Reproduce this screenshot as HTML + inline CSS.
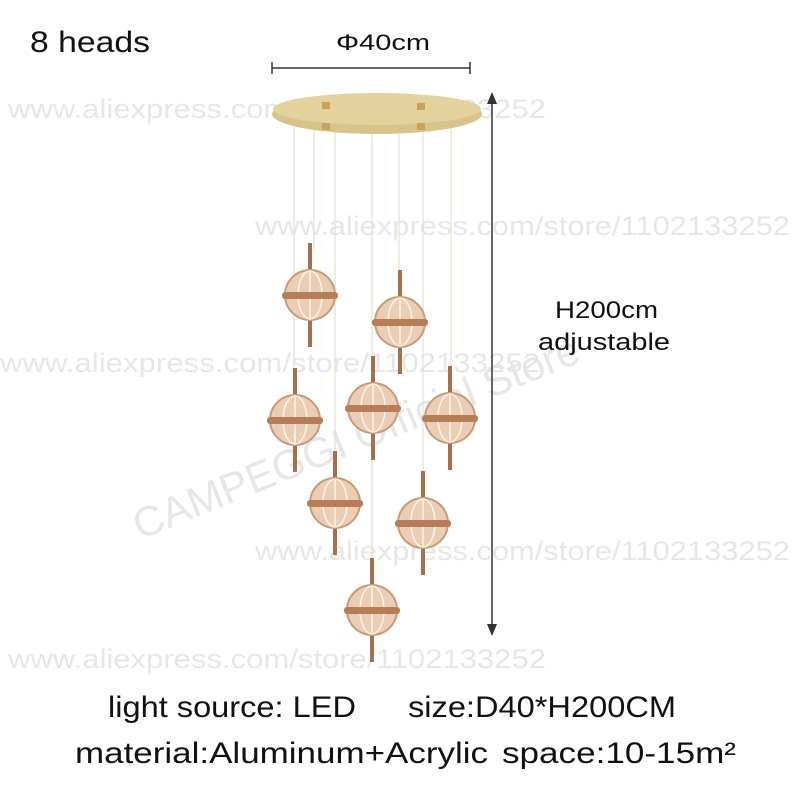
<!DOCTYPE html>
<html><head><style>body{margin:0;background:#fff}</style></head><body>
<svg width="800" height="800" xmlns="http://www.w3.org/2000/svg" font-family="Liberation Sans, sans-serif">
<rect width="800" height="800" fill="#fff"/>
<g fill="#e6e6e6" font-size="27" lengthAdjust="spacingAndGlyphs">
<text x="8" y="118" textLength="538" lengthAdjust="spacingAndGlyphs">www.aliexpress.com/store/1102133252</text>
<text x="255" y="235" textLength="535" lengthAdjust="spacingAndGlyphs">www.aliexpress.com/store/1102133252</text>
<text x="0" y="372" textLength="540" lengthAdjust="spacingAndGlyphs">www.aliexpress.com/store/1102133252</text>
<text x="255" y="560" textLength="535" lengthAdjust="spacingAndGlyphs">www.aliexpress.com/store/1102133252</text>
<text x="8" y="668" textLength="538" lengthAdjust="spacingAndGlyphs">www.aliexpress.com/store/1102133252</text>
<text x="140" y="540" font-size="42" transform="rotate(-22 140 540)">CAMPEGGI Official Store</text>
</g>
<text x="30" y="52" font-size="30" fill="#111" textLength="120" lengthAdjust="spacingAndGlyphs">8 heads</text>
<text x="336" y="50" font-size="22" fill="#111" textLength="94" lengthAdjust="spacingAndGlyphs">Φ40cm</text>
<line x1="272" y1="68" x2="470" y2="68" stroke="#333" stroke-width="1.5"/>
<line x1="272" y1="62" x2="272" y2="74" stroke="#333" stroke-width="1.5"/>
<line x1="470" y1="62" x2="470" y2="74" stroke="#333" stroke-width="1.5"/>
<line x1="492" y1="100" x2="492" y2="628" stroke="#333" stroke-width="1.5"/>
<polygon points="492,92 487,104 497,104" fill="#333"/>
<polygon points="492,636 487,624 497,624" fill="#333"/>
<text x="555" y="318" font-size="24" fill="#111" textLength="103" lengthAdjust="spacingAndGlyphs">H200cm</text>
<text x="538" y="350" font-size="24" fill="#111" textLength="132" lengthAdjust="spacingAndGlyphs">adjustable</text>
<g stroke="#e8e0cc" stroke-width="1.2">
<line x1="294" y1="110" x2="294" y2="470"/><line x1="314" y1="115" x2="314" y2="250"/>
<line x1="335" y1="122" x2="335" y2="560"/><line x1="372" y1="112" x2="372" y2="580"/>
<line x1="399" y1="112" x2="399" y2="285"/><line x1="423" y1="125" x2="423" y2="490"/>
<line x1="451" y1="110" x2="451" y2="390"/>
</g>
<ellipse cx="377" cy="114" rx="105" ry="20" fill="#d8c48a"/>
<ellipse cx="377" cy="109" rx="104" ry="16" fill="#e3d29e"/>
<g fill="#c9a25c"><rect x="322" y="102" width="8" height="7"/><rect x="322" y="123" width="8" height="7"/><rect x="417" y="103" width="8" height="7"/><rect x="417" y="123" width="8" height="7"/></g>
<defs><g id="g">
<rect x="-2" y="-52" width="4" height="104" fill="#a86f4c"/>
<circle r="25" fill="#e9cdb4" stroke="#c99a78" stroke-width="2"/>
<ellipse rx="12" ry="24" fill="none" stroke="#fff3e6" stroke-width="1.5"/>
<line y1="-24" y2="24" stroke="#fff3e6" stroke-width="1.5"/>
<rect x="-28" y="-3" width="56" height="7" rx="3" fill="#b57e58"/>
</g></defs>
<use href="#g" x="310" y="295"/><use href="#g" x="400" y="322"/>
<use href="#g" x="295" y="420"/><use href="#g" x="373" y="408"/>
<use href="#g" x="450" y="418"/><use href="#g" x="335" y="503"/>
<use href="#g" x="423" y="523"/><use href="#g" x="372" y="610"/>
<text x="108" y="717" font-size="30" fill="#111" textLength="248" lengthAdjust="spacingAndGlyphs">light source: LED</text>
<text x="408" y="717" font-size="30" fill="#111" textLength="268" lengthAdjust="spacingAndGlyphs">size:D40*H200CM</text>
<text x="75" y="763" font-size="30" fill="#111" textLength="413" lengthAdjust="spacingAndGlyphs">material:Aluminum+Acrylic</text>
<text x="502" y="763" font-size="30" fill="#111" textLength="234" lengthAdjust="spacingAndGlyphs">space:10-15m²</text>
</svg>
</body></html>
